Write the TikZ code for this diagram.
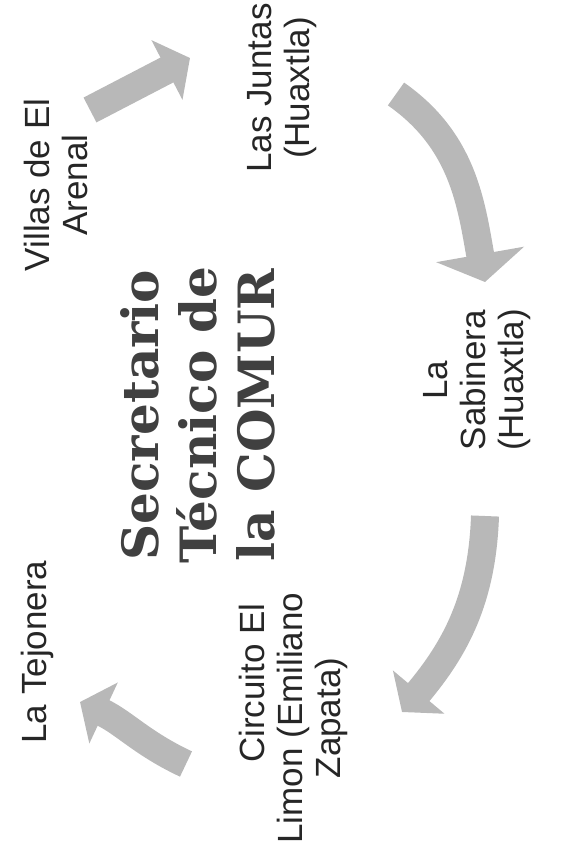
\documentclass[tikz,border=0pt]{standalone}
\usepackage{fontspec}
\setmainfont{Liberation Sans}
\newfontfamily\slabfont{DejaVu Serif}
\usetikzlibrary{arrows.meta}
\tikzset{
  lbl/.style={rotate=90,align=center,inner sep=0pt,text=black!85,font=\fontsize{35}{38}\selectfont},
  ttl/.style={rotate=90,align=center,inner sep=0pt,text=black!75,font=\slabfont\bfseries\fontsize{50}{58}\selectfont},
  cyclearrow/.style={draw=black!28,line width=28pt,-{Triangle[length=26pt,width=66pt,fill=black!28]}}
}
\begin{document}
\begin{tikzpicture}[x=1pt,y=1pt]
        \useasboundingbox (0,0) rectangle (573,-861);
        \node[lbl](villas)at(56,-185){Villas de El\\Arenal};
        \node[lbl](juntas)at(282,-88){Las Juntas\\(Huaxtla)};
        \node[lbl](sabinera)at(477,-380){La\\Sabinera\\(Huaxtla)};
        \node[lbl](limon)at(293,-718){\hspace*{70pt}Circuito El\\Limon (Emiliano\\Zapata)};
        \node[lbl](tejonera)at(37,-652){La Tejonera};
        \node[ttl](comur)at(198,-415){Secretario\\Técnico de\\la COMUR};

        \coordinate(a1s)at(90,-110);  \coordinate(a1e)at(190,-58);
        \coordinate(a2s)at(396,-94);  \coordinate(a2e)at(485,-282);
        \coordinate(a3s)at(485,-516); \coordinate(a3e)at(402,-712);
        \coordinate(a4s)at(186,-764); \coordinate(a4e)at(80,-702);

        \draw[cyclearrow](a1s)--(a1e);
        \draw[cyclearrow,-{Triangle[length=28pt,width=88pt,fill=black!28]}](a2s)to[out=-35,in=100](a2e);
        \draw[cyclearrow](a3s)to[out=-92,in=50](a3e);
        \draw[cyclearrow](a4s)to[out=155,in=-25](a4e);
    \end{tikzpicture}
\end{document}
